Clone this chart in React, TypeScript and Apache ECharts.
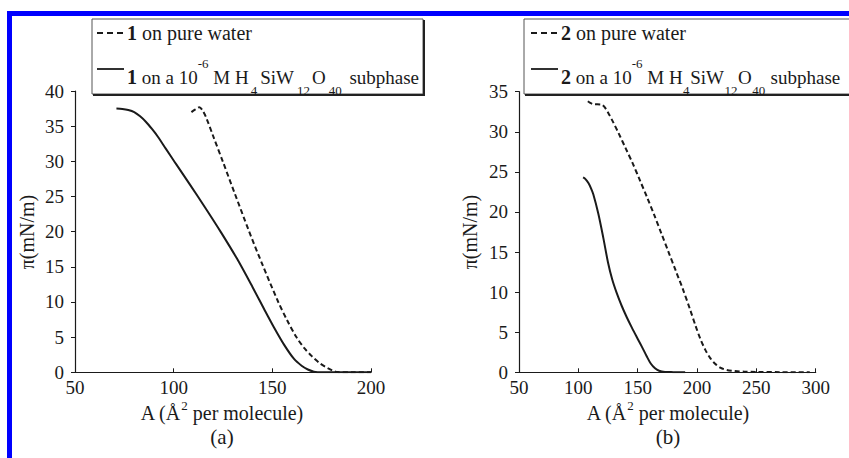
import React, { useEffect, useRef } from "react";
import * as echarts from "echarts";

const FONT = "Liberation Serif, Times New Roman, serif";
const INK = "#1a1a1a";

// Panel (a): compound 1
const aWaterA = [109, 111, 113, 114.5, 116.5, 120, 125, 131, 138, 145, 153, 157.5, 162, 166, 170, 174, 178, 181, 183, 190, 200];
const aWaterP = [37.0, 37.4, 37.7, 37.3, 36.2, 33.6, 29.9, 25.4, 20.2, 15.3, 10.0, 7.4, 5.1, 3.5, 2.3, 1.3, 0.6, 0.2, 0.03, 0, 0];
const aSubA = [71, 74, 77, 80, 83, 86, 89, 92, 96, 101, 108, 116, 124, 132, 140, 146, 151, 156, 161, 165, 168, 171, 173, 180, 190, 200];
const aSubP = [37.5, 37.45, 37.3, 37.0, 36.4, 35.6, 34.6, 33.5, 31.8, 29.7, 26.8, 23.4, 19.9, 16.2, 12.1, 8.9, 6.3, 3.9, 1.9, 0.9, 0.4, 0.1, 0.02, 0, 0, 0];

// Panel (b): compound 2
const bWaterA = [108, 110, 112.5, 119.5, 122, 125, 129, 134, 140, 146, 152, 158, 164, 170, 176, 182, 188, 194, 199, 203, 207, 211, 215, 220, 225, 232, 240, 250, 270, 295];
const bWaterP = [33.8, 33.6, 33.45, 33.4, 33.1, 32.4, 31.3, 29.8, 27.9, 26.0, 23.9, 21.8, 19.6, 17.3, 15.0, 12.7, 10.4, 7.9, 5.7, 4.1, 2.8, 1.8, 1.1, 0.55, 0.3, 0.15, 0.08, 0.05, 0.02, 0];
const bSubA = [104, 106, 108.5, 110.5, 112.6, 116.8, 121, 125, 128.5, 132.3, 136.5, 140.7, 145, 149.2, 153.5, 157.6, 161, 164.6, 168, 173, 180, 190];
const bSubP = [24.3, 24.1, 23.6, 23.0, 22.2, 19.8, 16.8, 13.7, 11.6, 9.9, 8.3, 6.9, 5.6, 4.4, 3.2, 2.0, 1.1, 0.5, 0.2, 0.05, 0.02, 0];

const xTicksA = { min: 50, max: 200, interval: 50 };
const yTicksA = { min: 0, max: 40, interval: 5 };
const xTicksB = { min: 50, max: 300, interval: 50 };
const yTicksB = { min: 0, max: 35, interval: 5 };

const yName = "π(mN/m)";
const panelLabels = ["(a)", "(b)"];

const zip = (xs: number[], ys: number[]) => xs.map((x, i) => [x, ys[i]]);

let measureCtx: CanvasRenderingContext2D | null = null;
function tw(s: string, size: number, bold = false) {
  if (!measureCtx) measureCtx = document.createElement("canvas").getContext("2d");
  measureCtx!.font = `${bold ? "bold " : ""}${size}px ${FONT}`;
  return measureCtx!.measureText(s).width;
}

type Piece = { t: string; size: number; dy?: number; bold?: boolean; gap?: number };
function layout(x0: number, yMid: number, list: Piece[], center = false, gapScale = 1) {
  const widths = list.map((p) => tw(p.t, p.size, p.bold) + (p.gap || 0) * gapScale);
  const total = widths.reduce((a, b) => a + b, 0);
  let x = center ? x0 - total / 2 : x0;
  return list.map((p, i) => {
    const el = {
      type: "text",
      x: x,
      y: yMid + (p.dy || 0),
      silent: true,
      style: {
        text: p.t,
        fontSize: p.size,
        fontFamily: FONT,
        fontWeight: p.bold ? "bold" : "normal",
        fill: INK,
        textAlign: "left",
        textVerticalAlign: "middle",
        lineHeight: Math.round(p.size * 0.9),
      },
    };
    x += widths[i];
    return el;
  });
}

function legendBox(x: number, y: number, w: number, h: number, num: string, off: number, gapScale: number) {
  const els: any[] = [];
  els.push({ type: "rect", shape: { x, y, width: w, height: h }, style: { fill: "#fff", stroke: "#555", lineWidth: 1 } });
  els.push({ type: "line", shape: { x1: x + 1, y1: y + h + 1, x2: x + w + 1, y2: y + h + 1 }, style: { stroke: "#222", lineWidth: 2 } });
  els.push({ type: "line", shape: { x1: x + w + 1, y1: y + 1, x2: x + w + 1, y2: y + h + 2 }, style: { stroke: "#222", lineWidth: 2 } });
  els.push({ type: "line", shape: { x1: x + off, y1: 33, x2: x + off + 27, y2: 33 }, style: { stroke: INK, lineWidth: 1.8, lineDash: [6, 4] } });
  els.push({ type: "line", shape: { x1: x + off, y1: 69, x2: x + off + 27, y2: 69 }, style: { stroke: INK, lineWidth: 1.8 } });
  els.push(...layout(x + off + 30, 33, [{ t: num, size: 20, bold: true }, { t: " on pure water", size: 20 }]));
  els.push(
    ...layout(x + off + 30, 77, [
      { t: num, size: 20, bold: true },
      { t: " on a 10", size: 19 },
      { t: "-6", size: 13, dy: -14 },
      { t: " M H", size: 19, gap: 2 },
      { t: "4", size: 13, dy: 13, gap: 3 },
      { t: "SiW", size: 19, gap: 3 },
      { t: "12", size: 13, dy: 13, gap: 2 },
      { t: "O", size: 19, gap: 3 },
      { t: "40", size: 13, dy: 13, gap: 3 },
      { t: " subphase", size: 19 },
    ], false, gapScale)
  );
  return els;
}

function xName(cx: number) {
  return layout(cx, 413, [
    { t: "A (Å", size: 20 },
    { t: "2", size: 13, dy: -8 },
    { t: " per molecule)", size: 20 },
  ], true);
}

const axisCommon = {
  axisLine: { show: true, lineStyle: { color: INK, width: 1.2 } },
  splitLine: { show: false },
};

function xAxis(grid: number, t: any) {
  return {
    type: "value", gridIndex: grid, ...t, ...axisCommon,
    axisTick: { show: true, inside: true, length: 4, lineStyle: { color: INK, width: 1 } },
    axisLabel: { fontSize: 19, fontFamily: FONT, color: INK, margin: 8, lineHeight: 15 },
  };
}
function yAxis(grid: number, t: any) {
  return {
    type: "value", gridIndex: grid, ...t, ...axisCommon,
    axisTick: { show: true, inside: false, length: 4, lineStyle: { color: INK, width: 1 } },
    axisLabel: { fontSize: 19, fontFamily: FONT, color: INK, margin: 11 },
  };
}

function line(name: string, gi: number, data: number[][], dashed: boolean) {
  return {
    type: "line", name, xAxisIndex: gi, yAxisIndex: gi, data, showSymbol: false,
    smooth: 0.3,
    lineStyle: { color: INK, width: 2, type: dashed ? [5, 3] : "solid" },
    z: 3,
  };
}

export default function App() {
  const ref = useRef<HTMLDivElement>(null);
  useEffect(() => {
    document.body.style.margin = "0";
    const chart = echarts.init(ref.current!, null, { renderer: "svg" });
    const option: any = {
      animation: false,
      backgroundColor: "#fff",
      textStyle: { fontFamily: FONT },
      grid: [
        { left: 75, top: 91, width: 296, height: 281.3 },
        { left: 519, top: 91.7, width: 296.7, height: 280.6 },
      ],
      xAxis: [xAxis(0, xTicksA), xAxis(1, xTicksB)],
      yAxis: [yAxis(0, yTicksA), yAxis(1, yTicksB)],
      series: [
        line("1 on pure water", 0, zip(aWaterA, aWaterP), true),
        line("1 on subphase", 0, zip(aSubA, aSubP), false),
        line("2 on pure water", 1, zip(bWaterA, bWaterP), true),
        line("2 on subphase", 1, zip(bSubA, bSubP), false),
      ],
      graphic: [
        { type: "rect", shape: { x: 7, y: 11, width: 842, height: 5 }, style: { fill: "#0000ff" }, silent: true },
        { type: "rect", shape: { x: 7, y: 11, width: 5, height: 447 }, style: { fill: "#0000ff" }, silent: true },
        ...legendBox(92, 19, 331, 75, "1", 5, 1),
        ...legendBox(524, 19, 340, 75, "2", 7, 0.2),
        ...xName(222),
        ...xName(668),
        { type: "text", x: 27, y: 232, rotation: Math.PI / 2, silent: true,
          style: { text: yName, fontSize: 20, fontFamily: FONT, fill: INK, textAlign: "center", textVerticalAlign: "middle" } },
        { type: "text", x: 470, y: 232, rotation: Math.PI / 2, silent: true,
          style: { text: yName, fontSize: 20, fontFamily: FONT, fill: INK, textAlign: "center", textVerticalAlign: "middle" } },
        { type: "text", x: 222, y: 437, silent: true,
          style: { text: panelLabels[0], fontSize: 21, fontFamily: FONT, fill: INK, textAlign: "center", textVerticalAlign: "middle" } },
        { type: "text", x: 668, y: 437, silent: true,
          style: { text: panelLabels[1], fontSize: 21, fontFamily: FONT, fill: INK, textAlign: "center", textVerticalAlign: "middle" } },
      ],
    };
    chart.setOption(option);
    return () => chart.dispose();
  }, []);
  return <div ref={ref} style={{ width: 849, height: 458, background: "#fff" }} />;
}
